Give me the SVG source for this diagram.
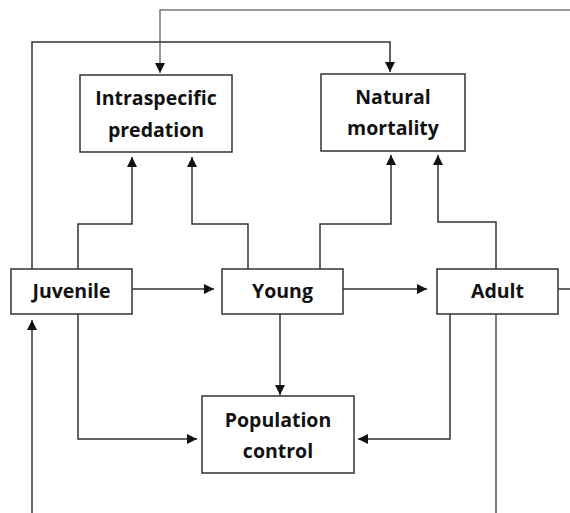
<svg xmlns="http://www.w3.org/2000/svg" width="570" height="513" viewBox="0 0 570 513">
<style>
.box{fill:#fff;stroke:#333;stroke-width:1.5}
.lbl{font-family:"Open Sans","Liberation Sans",sans-serif;font-weight:bold;font-size:19.5px;fill:#111;text-anchor:middle}
.c{fill:none;stroke:#333;stroke-width:1.5}
</style>
<defs>
<marker id="ah" markerUnits="userSpaceOnUse" markerWidth="10" markerHeight="10" refX="10" refY="5" orient="auto" viewBox="0 0 10 10">
<path d="M0,0 L10,5 L0,10 z" fill="#111"/>
</marker>
</defs>
<g id="connectors">
<path class="c" style="stroke:#777" d="M570,10 H160 V73" marker-end="url(#ah)"/>
<path class="c" d="M32,269 V42 H390 V72" marker-end="url(#ah)"/>
<path class="c" d="M78,269 V224 H132 V157" marker-end="url(#ah)"/>
<path class="c" d="M248,269 V224 H192 V157" marker-end="url(#ah)"/>
<path class="c" d="M320,269 V224 H391 V155" marker-end="url(#ah)"/>
<path class="c" d="M496,269 V222 H438 V155" marker-end="url(#ah)"/>
<path class="c" d="M132,289 H214" marker-end="url(#ah)"/>
<path class="c" d="M343,289 H427" marker-end="url(#ah)"/>
<path class="c" d="M558,289 H570"/>
<path class="c" d="M32,513 V320" marker-end="url(#ah)"/>
<path class="c" d="M78,314 V439 H197" marker-end="url(#ah)"/>
<path class="c" d="M280,314 V395" marker-end="url(#ah)"/>
<path class="c" d="M450,314 V439 H358" marker-end="url(#ah)"/>
<path class="c" style="stroke:#555" d="M496,314 V513"/>
</g>
<g id="intraspecific">
<rect class="box" x="80" y="75" width="152" height="77"/>
<text class="lbl" x="156" y="105">Intraspecific</text>
<text class="lbl" x="156" y="137">predation</text>
</g>
<g id="natural">
<rect class="box" x="321" y="74" width="144" height="77"/>
<text class="lbl" x="393" y="104">Natural</text>
<text class="lbl" x="393" y="135">mortality</text>
</g>
<g id="juvenile">
<rect class="box" x="11" y="269" width="121" height="45"/>
<text class="lbl" x="71.5" y="298">Juvenile</text>
</g>
<g id="young">
<rect class="box" x="222" y="269" width="121" height="45"/>
<text class="lbl" x="282.5" y="298">Young</text>
</g>
<g id="adult">
<rect class="box" x="437" y="269" width="121" height="45"/>
<text class="lbl" x="497.5" y="298">Adult</text>
</g>
<g id="population">
<rect class="box" x="202" y="396" width="152" height="77"/>
<text class="lbl" x="278" y="427">Population</text>
<text class="lbl" x="278" y="458">control</text>
</g>
</svg>
